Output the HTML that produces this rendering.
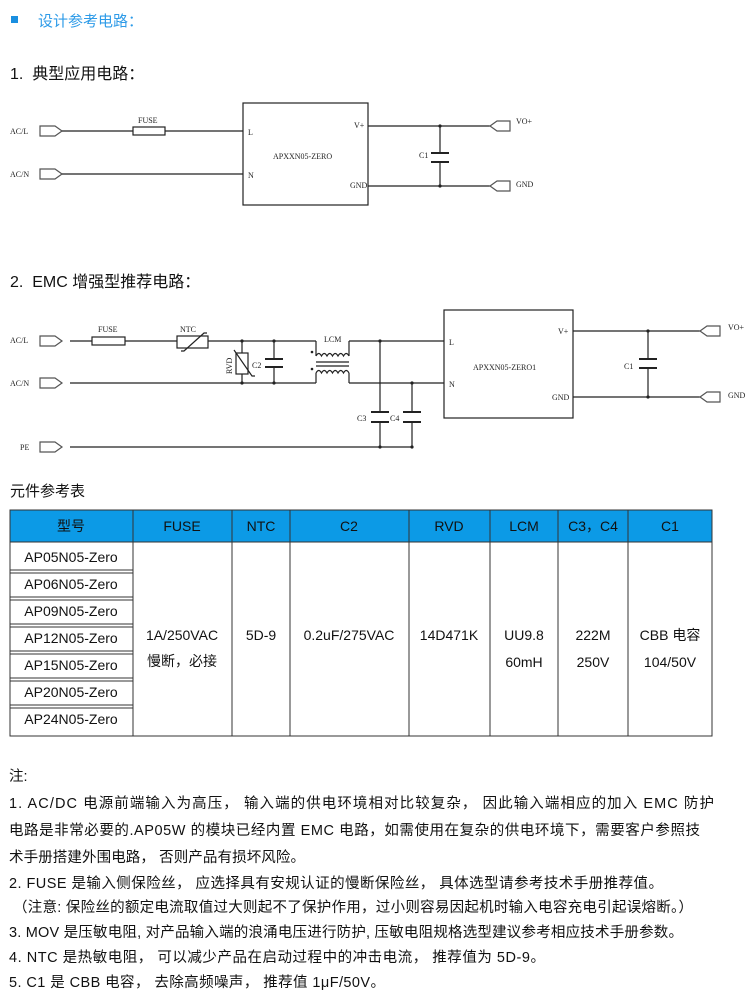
<!DOCTYPE html>
<html><head><meta charset="utf-8"><style>
html,body{margin:0;padding:0;background:#fff;}
svg{display:block}
.s{font-family:"Liberation Serif","Noto Serif CJK SC",serif;font-size:8px;fill:#222}
.h{font-family:"Liberation Sans","Noto Sans CJK SC",sans-serif;fill:#111}
</style></head><body>
<svg width="750" height="1000" viewBox="0 0 750 1000" xmlns="http://www.w3.org/2000/svg">
<!-- headings -->
<rect x="11" y="16" width="7" height="7" fill="#1a8fe0"/>
<text x="38" y="26" class="h" font-size="15" style="fill:#2e9be8">设计参考电路：</text>
<text x="10" y="79" class="h" font-size="16">1.&#160;&#160;典型应用电路：</text>
<text x="10" y="287" class="h" font-size="16">2.&#160;&#160;EMC 增强型推荐电路：</text>

<g stroke="#222" stroke-width="1.2" fill="none">
<!-- diagram 1 -->
<path d="M40,126 h15 l7,5 l-7,5 h-15 z" stroke="#555"/>
<path d="M40,169 h15 l7,5 l-7,5 h-15 z" stroke="#555"/>
<line x1="62" y1="131" x2="243" y2="131"/>
<line x1="62" y1="174" x2="243" y2="174"/>
<rect x="133" y="127" width="32" height="8" fill="#fff"/>
<rect x="243" y="103" width="125" height="102"/>
<line x1="368" y1="126" x2="490" y2="126"/>
<line x1="368" y1="186" x2="490" y2="186"/>
<line x1="440" y1="126" x2="440" y2="153"/>
<line x1="440" y1="162" x2="440" y2="186"/>
<line x1="431" y1="153" x2="449" y2="153" stroke-width="2"/>
<line x1="431" y1="162" x2="449" y2="162" stroke-width="2"/>
<path d="M510,121 h-13 l-7,5 l7,5 h13 z" stroke="#555"/>
<path d="M510,181 h-13 l-7,5 l7,5 h13 z" stroke="#555"/>

<!-- diagram 2 -->
<path d="M40,336 h15 l7,5 l-7,5 h-15 z" stroke="#555"/>
<path d="M40,378 h15 l7,5 l-7,5 h-15 z" stroke="#555"/>
<path d="M40,442 h15 l7,5 l-7,5 h-15 z" stroke="#555"/>
<line x1="70" y1="341" x2="316" y2="341"/>
<line x1="70" y1="383" x2="316" y2="383"/>
<line x1="70" y1="447" x2="412" y2="447"/>
<rect x="92" y="337" width="33" height="8" fill="#fff"/>
<rect x="177" y="336" width="31" height="12" fill="#fff"/>
<path d="M181,351 h3 l20,-18 h3"/>
<line x1="242" y1="341" x2="242" y2="383"/>
<rect x="236" y="353" width="12" height="21" fill="#fff"/>
<path d="M234,350 l18,26 h3"/>
<line x1="274" y1="341" x2="274" y2="359"/>
<line x1="274" y1="367" x2="274" y2="383"/>
<line x1="265" y1="359" x2="283" y2="359" stroke-width="2"/>
<line x1="265" y1="367" x2="283" y2="367" stroke-width="2"/>
<!-- LCM -->
<path d="M316,341 v15 M349,341 v15 M316,383 v-10 M349,383 v-10"/>
<path d="M316,356 q2.75,-5 5.5,0 q2.75,-5 5.5,0 q2.75,-5 5.5,0 q2.75,-5 5.5,0 q2.75,-5 5.5,0 q2.75,-5 5.5,0"/>
<path d="M316,373 q2.75,-5 5.5,0 q2.75,-5 5.5,0 q2.75,-5 5.5,0 q2.75,-5 5.5,0 q2.75,-5 5.5,0 q2.75,-5 5.5,0"/>
<line x1="316" y1="362" x2="349" y2="362"/>
<line x1="316" y1="366" x2="349" y2="366"/>
<line x1="349" y1="341" x2="444" y2="341"/>
<line x1="349" y1="383" x2="444" y2="383"/>
<line x1="380" y1="341" x2="380" y2="412"/>
<line x1="380" y1="422" x2="380" y2="447"/>
<line x1="371" y1="412" x2="389" y2="412" stroke-width="2"/>
<line x1="371" y1="422" x2="389" y2="422" stroke-width="2"/>
<line x1="412" y1="383" x2="412" y2="412"/>
<line x1="412" y1="422" x2="412" y2="447"/>
<line x1="403" y1="412" x2="421" y2="412" stroke-width="2"/>
<line x1="403" y1="422" x2="421" y2="422" stroke-width="2"/>
<rect x="444" y="310" width="129" height="108"/>
<line x1="573" y1="331" x2="700" y2="331"/>
<line x1="573" y1="397" x2="700" y2="397"/>
<line x1="648" y1="331" x2="648" y2="359"/>
<line x1="648" y1="368" x2="648" y2="397"/>
<line x1="639" y1="359" x2="657" y2="359" stroke-width="2"/>
<line x1="639" y1="368" x2="657" y2="368" stroke-width="2"/>
<path d="M720,326 h-13 l-7,5 l7,5 h13 z" stroke="#555"/>
<path d="M720,392 h-13 l-7,5 l7,5 h13 z" stroke="#555"/>
</g>
<g fill="#222">
<circle cx="242" cy="341" r="1.6"/><circle cx="242" cy="383" r="1.6"/>
<circle cx="274" cy="341" r="1.6"/><circle cx="274" cy="383" r="1.6"/>
<circle cx="380" cy="341" r="1.6"/><circle cx="412" cy="383" r="1.6"/>
<circle cx="380" cy="447" r="1.6"/><circle cx="412" cy="447" r="1.6"/>
<circle cx="648" cy="331" r="1.6"/><circle cx="648" cy="397" r="1.6"/>
<circle cx="440" cy="126" r="1.6"/><circle cx="440" cy="186" r="1.6"/>
<circle cx="312" cy="352" r="1.3"/><circle cx="312" cy="369" r="1.3"/>
</g>
<!-- schematic labels -->
<text class="s" x="10" y="134">AC/L</text>
<text class="s" x="10" y="177">AC/N</text>
<text class="s" x="138" y="123">FUSE</text>
<text class="s" x="248" y="135">L</text>
<text class="s" x="248" y="178">N</text>
<text class="s" x="273" y="159">APXXN05-ZERO</text>
<text class="s" x="354" y="128">V+</text>
<text class="s" x="350" y="188">GND</text>
<text class="s" x="419" y="158">C1</text>
<text class="s" x="516" y="124">VO+</text>
<text class="s" x="516" y="187">GND</text>

<text class="s" x="10" y="343">AC/L</text>
<text class="s" x="10" y="386">AC/N</text>
<text class="s" x="20" y="450">PE</text>
<text class="s" x="98" y="332">FUSE</text>
<text class="s" x="180" y="332">NTC</text>
<text class="s" x="232" y="374" transform="rotate(-90 232 374)">RVD</text>
<text class="s" x="252" y="368">C2</text>
<text class="s" x="324" y="342">LCM</text>
<text class="s" x="357" y="421">C3</text>
<text class="s" x="390" y="421">C4</text>
<text class="s" x="449" y="345">L</text>
<text class="s" x="449" y="387">N</text>
<text class="s" x="473" y="370">APXXN05-ZERO1</text>
<text class="s" x="558" y="334">V+</text>
<text class="s" x="552" y="400">GND</text>
<text class="s" x="624" y="369">C1</text>
<text class="s" x="728" y="330">VO+</text>
<text class="s" x="728" y="398">GND</text>

<!-- table -->
<text x="10" y="496" class="h" font-size="15">元件参考表</text>
<rect x="10" y="510" width="702" height="32" fill="#0c9ae6" stroke="#333" stroke-width="1"/>
<g stroke="#333" stroke-width="1" fill="none">
<rect x="10" y="542" width="702" height="194"/>
<path d="M133,510 V736 M232,510 V736 M290,510 V736 M409,510 V736 M490,510 V736 M558,510 V736 M628,510 V736"/>
<path d="M10,570 H133 M10,573 H133 M10,597 H133 M10,600 H133 M10,624 H133 M10,627 H133 M10,651 H133 M10,654 H133 M10,678 H133 M10,681 H133 M10,705 H133 M10,708 H133" stroke-width="1"/>
</g>
<g class="h" font-size="14" text-anchor="middle">
<text x="71" y="531">型号</text><text x="182" y="531">FUSE</text><text x="261" y="531">NTC</text>
<text x="349" y="531">C2</text><text x="449" y="531">RVD</text><text x="524" y="531">LCM</text>
<text x="593" y="531">C3，C4</text><text x="670" y="531">C1</text>
<text x="71" y="562">AP05N05-Zero</text><text x="71" y="589">AP06N05-Zero</text>
<text x="71" y="616">AP09N05-Zero</text><text x="71" y="643">AP12N05-Zero</text>
<text x="71" y="670">AP15N05-Zero</text><text x="71" y="697">AP20N05-Zero</text>
<text x="71" y="724">AP24N05-Zero</text>
<text x="182" y="640">1A/250VAC</text><text x="182" y="666">慢断，必接</text>
<text x="261" y="640">5D-9</text><text x="349" y="640">0.2uF/275VAC</text>
<text x="449" y="640">14D471K</text>
<text x="524" y="640">UU9.8</text><text x="524" y="667">60mH</text>
<text x="593" y="640">222M</text><text x="593" y="667">250V</text>
<text x="670" y="640">CBB 电容</text><text x="670" y="667">104/50V</text>
</g>

<!-- notes -->
<g class="h" font-size="14.5">
<text x="9" y="781">注:</text>
<text x="9" y="808" textLength="705" lengthAdjust="spacing">1. AC/DC 电源前端输入为高压， 输入端的供电环境相对比较复杂， 因此输入端相应的加入 EMC 防护</text>
<text x="9" y="835" textLength="691" lengthAdjust="spacing">电路是非常必要的.AP05W 的模块已经内置 EMC 电路，如需使用在复杂的供电环境下，需要客户参照技</text>
<text x="9" y="862" textLength="296" lengthAdjust="spacing">术手册搭建外围电路， 否则产品有损坏风险。</text>
<text x="9" y="888" textLength="654" lengthAdjust="spacing">2. FUSE 是输入侧保险丝， 应选择具有安规认证的慢断保险丝， 具体选型请参考技术手册推荐值。</text>
<text x="13" y="912" textLength="680" lengthAdjust="spacing">（注意: 保险丝的额定电流取值过大则起不了保护作用，过小则容易因起机时输入电容充电引起误熔断。）</text>
<text x="9" y="937" textLength="674" lengthAdjust="spacing">3. MOV 是压敏电阻, 对产品输入端的浪涌电压进行防护, 压敏电阻规格选型建议参考相应技术手册参数。</text>
<text x="9" y="962" textLength="536" lengthAdjust="spacing">4. NTC 是热敏电阻， 可以减少产品在启动过程中的冲击电流， 推荐值为 5D-9。</text>
<text x="9" y="987" textLength="376" lengthAdjust="spacing">5. C1 是 CBB 电容， 去除高频噪声， 推荐值 1μF/50V。</text>
</g>
</svg>
</body></html>
